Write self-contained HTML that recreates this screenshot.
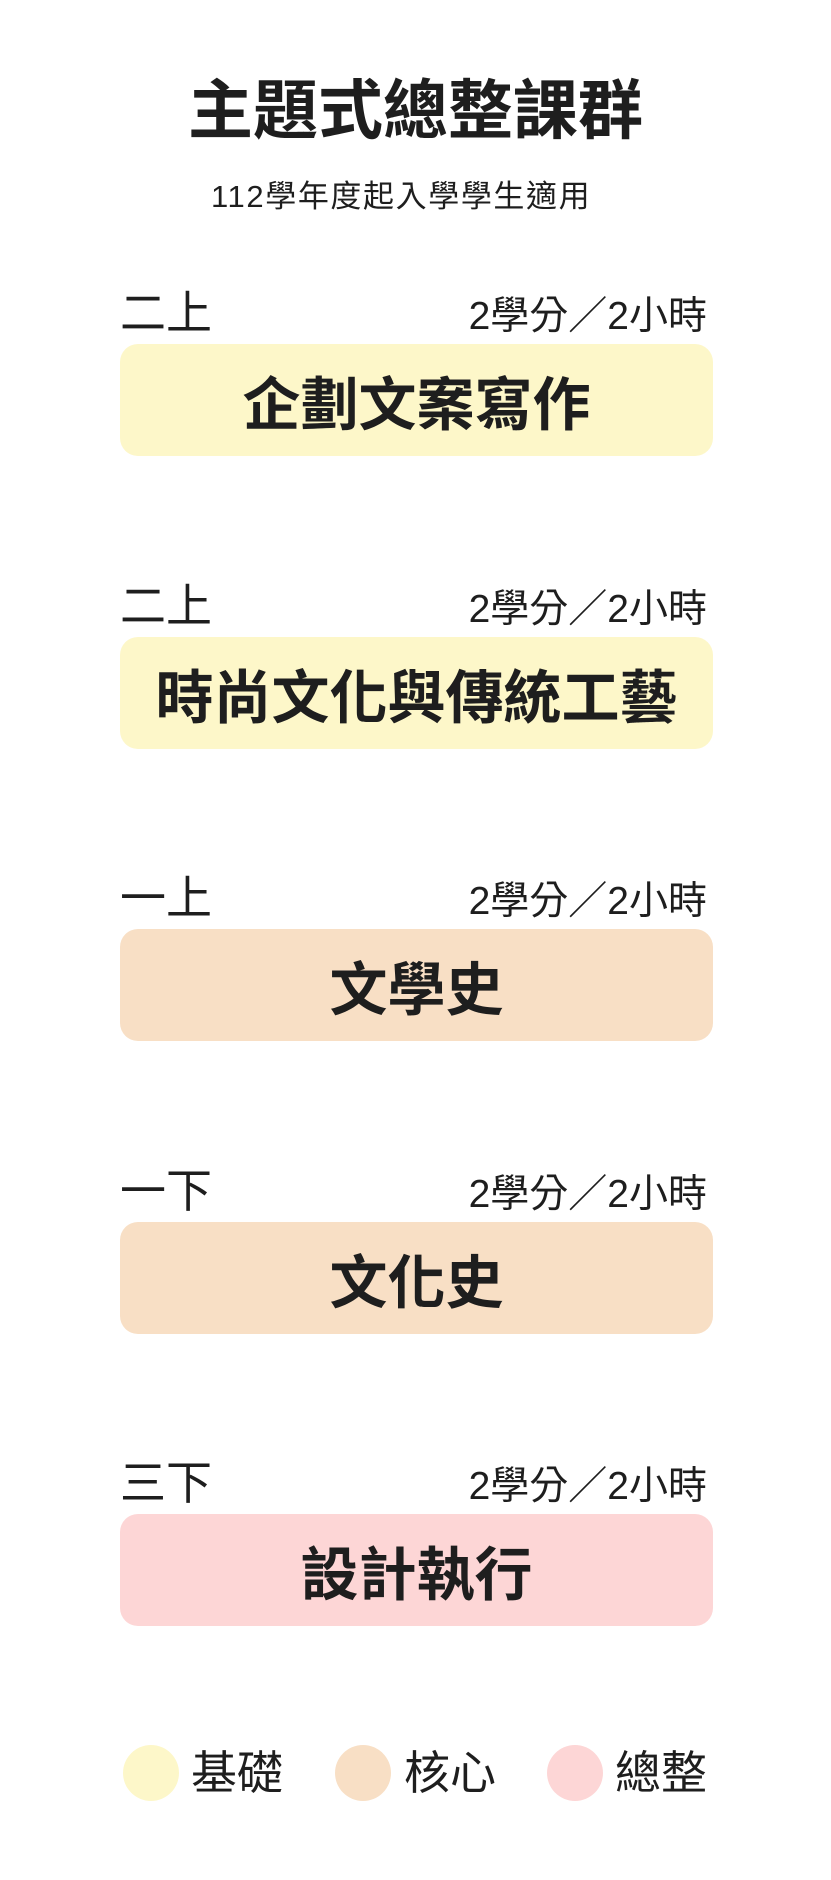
<!DOCTYPE html>
<html><head><meta charset="utf-8"><style>
body{margin:0;width:831px;height:1880px;background:#fff;position:relative;overflow:hidden;font-family:"Liberation Sans","Noto Sans CJK TC",sans-serif;color:#1e1e1e}
.a{position:absolute;white-space:nowrap;line-height:1}
.box{position:absolute;left:120px;width:593px;height:112px;border-radius:18px;display:flex;align-items:center;justify-content:center;font-weight:bold;font-size:58px}
.sem{left:120px;font-size:46px}
.cr{right:124px;font-size:39px}
.c{position:absolute;width:56px;height:56px;border-radius:50%;top:1745px}
.lg{top:1750px;font-size:46px}
</style></head><body>
<div class="a" style="left:0;width:831px;text-align:center;top:78px;font-size:65px;font-weight:bold">主題式總整課群</div>
<div class="a" style="left:211px;top:181px;font-size:31px;letter-spacing:1.6px">112學年度起入學學生適用</div>

<div class="a sem" style="top:290px">二上</div><div class="a cr" style="top:297px">2學分／2小時</div>
<div class="box" style="top:344px;background:#fdf7c9">企劃文案寫作</div>

<div class="a sem" style="top:583px">二上</div><div class="a cr" style="top:590px">2學分／2小時</div>
<div class="box" style="top:637px;background:#fdf7c9">時尚文化與傳統工藝</div>

<div class="a sem" style="top:875px">一上</div><div class="a cr" style="top:882px">2學分／2小時</div>
<div class="box" style="top:929px;background:#f8dfc5">文學史</div>

<div class="a sem" style="top:1168px">一下</div><div class="a cr" style="top:1175px">2學分／2小時</div>
<div class="box" style="top:1222px;background:#f8dfc5">文化史</div>

<div class="a sem" style="top:1460px">三下</div><div class="a cr" style="top:1467px">2學分／2小時</div>
<div class="box" style="top:1514px;background:#fdd6d6">設計執行</div>

<div class="c" style="left:123px;background:#fdf7c9"></div><div class="a lg" style="left:191px">基礎</div>
<div class="c" style="left:335px;background:#f8dfc5"></div><div class="a lg" style="left:404px">核心</div>
<div class="c" style="left:547px;background:#fdd6d6"></div><div class="a lg" style="left:615px">總整</div>
</body></html>
